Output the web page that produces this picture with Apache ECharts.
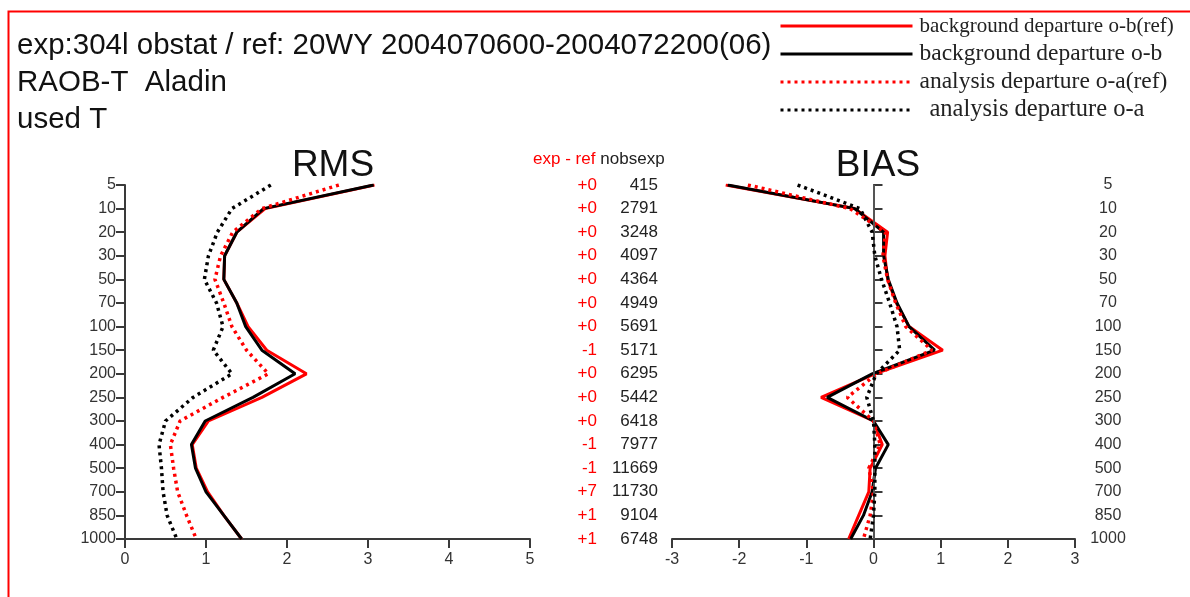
<!DOCTYPE html>
<html>
<head>
<meta charset="utf-8">
<script src="https://cdn.jsdelivr.net/npm/echarts@6/dist/echarts.min.js"></script>
<style>
  html, body {margin: 0; padding: 0; background: #fff;}
  #chart {width: 1190px; height: 597px;}
</style>
</head>
<body>
<div id="chart"></div>
<script>
// pressure levels (hPa), top to bottom
const levels = ['5', '10', '20', '30', '50', '70', '100', '150', '200', '250', '300', '400', '500', '700', '850', '1000'];

// RMS profiles
const rmsObRef = [3.08, 1.73, 1.38, 1.23, 1.22, 1.38, 1.52, 1.75, 2.24, 1.69, 1.03, 0.83, 0.88, 1.02, 1.22, 1.44];
const rmsOb = [3.07, 1.71, 1.38, 1.23, 1.22, 1.38, 1.49, 1.69, 2.10, 1.58, 0.99, 0.82, 0.87, 1.00, 1.22, 1.44];
const rmsOaRef = [2.64, 1.69, 1.33, 1.18, 1.11, 1.22, 1.32, 1.50, 1.77, 1.21, 0.68, 0.56, 0.60, 0.65, 0.76, 0.88];
const rmsOa = [1.80, 1.32, 1.14, 1.03, 0.98, 1.13, 1.21, 1.09, 1.32, 0.84, 0.50, 0.42, 0.45, 0.47, 0.52, 0.64];

// BIAS profiles
const biasObRef = [-2.20, -0.28, 0.21, 0.17, 0.21, 0.34, 0.53, 1.03, 0.02, -0.78, 0.00, 0.13, -0.05, -0.07, -0.22, -0.37];
const biasOb = [-2.17, -0.28, 0.15, 0.15, 0.22, 0.35, 0.53, 0.91, -0.02, -0.69, 0.00, 0.22, 0.03, -0.02, -0.15, -0.34];
const biasOaRef = [-1.87, -0.35, 0.18, 0.14, 0.21, 0.33, 0.48, 0.87, 0.05, -0.39, 0.00, 0.10, -0.07, 0.00, -0.05, -0.15];
const biasOa = [-1.13, -0.20, -0.02, 0.02, 0.12, 0.24, 0.35, 0.39, 0.04, -0.10, 0.00, 0.02, 0.02, 0.02, 0.00, -0.05];

// middle columns
const expMinusRef = ['+0', '+0', '+0', '+0', '+0', '+0', '+0', '-1', '+0', '+0', '+0', '-1', '-1', '+7', '+1', '+1'];
const nobsExp = [415, 2791, 3248, 4097, 4364, 4949, 5691, 5171, 6295, 5442, 6418, 7977, 11669, 11730, 9104, 6748];

const rmsTicks = [0, 5, 1];
const biasTicks = [-3, 3, 1];

const names = [
  'background departure o-b(ref)',
  'background departure o-b',
  'analysis departure o-a(ref)',
  'analysis departure o-a',
];

const axisColor = '#3a3a3a';
const font = 'Liberation Sans, Arial, sans-serif';

const styles = [
  {color: '#ff0000', type: 'solid', width: 3},
  {color: '#000000', type: 'solid', width: 3},
  {color: '#ff0000', type: [3, 4], width: 3.5},
  {color: '#000000', type: [3, 4], width: 3.5},
];

function yAxisFor(gridIndex, position) {
  return {
    type: 'category',
    gridIndex,
    data: levels,
    inverse: true,
    boundaryGap: false,
    position,
    axisLine: {show: true, lineStyle: {color: axisColor, width: 2}},
    axisTick: {show: true, length: 9, lineStyle: {color: axisColor, width: 2}},
    axisLabel: {
      color: '#333',
      fontFamily: font,
      fontSize: 16,
      margin: position === 'left' ? 9 : 33,
      align: position === 'left' ? 'right' : 'center',
      interval: 0,
    },
    splitLine: {show: false},
  };
}

function xAxisFor(gridIndex, ticks) {
  return {
    type: 'value',
    gridIndex,
    min: ticks[0],
    max: ticks[1],
    interval: ticks[2],
    axisLine: {show: true, onZero: false, lineStyle: {color: axisColor, width: 2}},
    axisTick: {show: true, length: 9, lineStyle: {color: axisColor, width: 2}},
    axisLabel: {color: '#333', fontFamily: font, fontSize: 16, margin: 13},
    splitLine: {show: false},
  };
}

function makeSeries(data, idx, xi, yi) {
  return {
    name: names[idx],
    type: 'line',
    xAxisIndex: xi,
    yAxisIndex: yi,
    data,
    symbol: 'none',
    lineStyle: styles[idx],
    itemStyle: {color: styles[idx].color},
    z: 2 + idx,
    animation: false,
  };
}

const rmsData = [rmsObRef, rmsOb, rmsOaRef, rmsOa];
const biasData = [biasObRef, biasOb, biasOaRef, biasOa];

const series = [];
rmsData.forEach((d, i) => series.push(makeSeries(d, i, 0, 0)));
biasData.forEach((d, i) => series.push(makeSeries(d, i, 1, 1)));
// zero line of the bias panel
series[4].markLine = {
  silent: true,
  symbol: 'none',
  label: {show: false},
  lineStyle: {color: '#555', width: 2, type: 'solid'},
  data: [{xAxis: 0}],
  animation: false,
};

const legendSizes = [21, 23.5, 23.5, 24.5];

const chart = echarts.init(document.getElementById('chart'));
chart.setOption({
  animation: false,
  title: [
    {
      text: 'exp:304l obstat / ref: 20WY 2004070600-2004072200(06)\nRAOB-T  Aladin\nused T',
      left: 12,
      top: 22,
      textStyle: {fontFamily: font, fontSize: 29.5, fontWeight: 'normal', color: '#111', lineHeight: 37},
    },
    {
      text: 'RMS',
      left: 328,
      top: 142,
      textAlign: 'center',
      textStyle: {fontFamily: font, fontSize: 37, fontWeight: 'normal', color: '#111'},
    },
    {
      text: 'BIAS',
      left: 873,
      top: 142,
      textAlign: 'center',
      textStyle: {fontFamily: font, fontSize: 37, fontWeight: 'normal', color: '#111'},
    },
    {
      text: '{r|exp - ref} {k|nobsexp}',
      left: 528,
      top: 145,
      textStyle: {
        fontWeight: 'normal',
        rich: {
          r: {color: '#ff0000', fontFamily: font, fontSize: 17, fontWeight: 'normal'},
          k: {color: '#222', fontFamily: font, fontSize: 17, fontWeight: 'normal'},
        },
      },
    },
  ],
  legend: {
    orient: 'vertical',
    left: 779,
    top: 12,
    padding: 0,
    itemWidth: 132,
    itemHeight: 14,
    itemGap: 0,
    selectedMode: false,
    itemStyle: {opacity: 0, borderWidth: 0},
    lineStyle: {width: 3},
    data: names.map((n, i) => ({
      name: n,
      textStyle: {
        fontFamily: 'Liberation Serif, Times New Roman, serif',
        fontSize: legendSizes[i],
        color: '#222',
        lineHeight: 18,
        padding: [10, 0, 0, i === 3 ? 12 : 2],
      },
    })),
  },
  graphic: [
    {
      type: 'rect',
      left: 6,
      top: 9,
      shape: {width: 1200, height: 600},
      style: {fill: 'none', stroke: '#ff0000', lineWidth: 2},
      silent: true,
    },
  ],
  grid: [
    {left: 125, right: 660, top: 185, bottom: 58},
    {left: 672, right: 115, top: 185, bottom: 58},
    {left: 660, width: 1, top: 185, bottom: 58},
  ],
  xAxis: [
    xAxisFor(0, rmsTicks),
    xAxisFor(1, biasTicks),
    {type: 'value', gridIndex: 2, show: false},
  ],
  yAxis: [
    yAxisFor(0, 'left'),
    yAxisFor(1, 'right'),
    {
      type: 'category',
      gridIndex: 2,
      data: levels,
      inverse: true,
      boundaryGap: false,
      position: 'left',
      axisLine: {show: false},
      axisTick: {show: false},
      axisLabel: {
        interval: 0,
        margin: 2,
        align: 'right',
        fontFamily: font,
        fontSize: 17,
        color: '#222',
        formatter: (v, i) => String(nobsExp[i]),
      },
    },
    {
      type: 'category',
      gridIndex: 2,
      data: levels,
      inverse: true,
      boundaryGap: false,
      position: 'left',
      offset: 61,
      axisLine: {show: false},
      axisTick: {show: false},
      axisLabel: {
        interval: 0,
        margin: 2,
        align: 'right',
        fontFamily: font,
        fontSize: 17,
        color: '#ff0000',
        formatter: (v, i) => expMinusRef[i],
      },
    },
  ],
  series,
});
</script>
</body>
</html>
